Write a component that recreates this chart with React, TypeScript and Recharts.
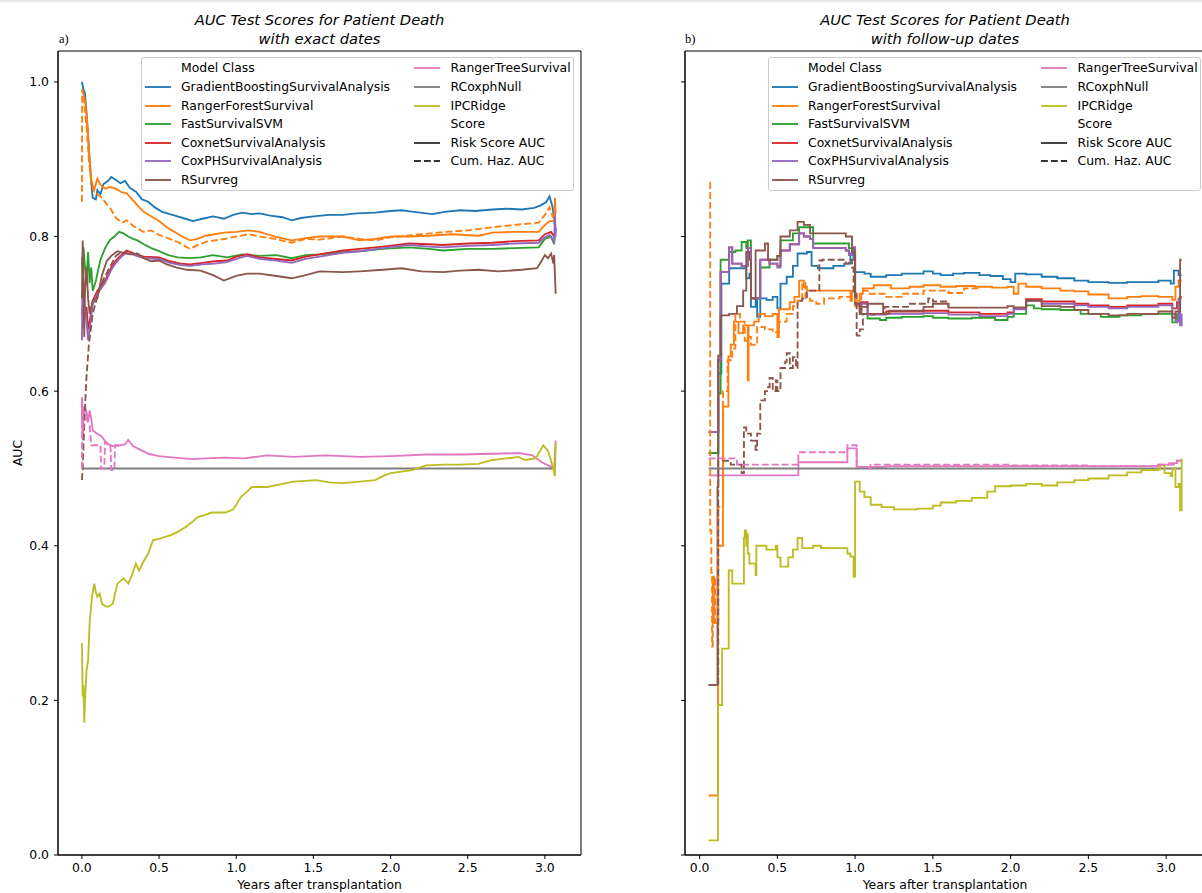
import React from 'react';
import { LineChart, Line, XAxis, YAxis, ReferenceArea } from 'recharts';

type Pt = [number, number];

// ---- panel a) exact dates: [years, AUC] ----
const exactGradientBoosting: Pt[] = [[0,1.0],[0.01,0.99],[0.02,0.985],[0.03,0.96],[0.04,0.93],[0.05,0.9],[0.06,0.87],[0.07,0.85],[0.09,0.848],[0.1,0.86],[0.12,0.855],[0.14,0.868],[0.17,0.872],[0.19,0.877],[0.22,0.873],[0.25,0.869],[0.28,0.872],[0.31,0.863],[0.35,0.858],[0.39,0.848],[0.43,0.845],[0.47,0.838],[0.52,0.832],[0.57,0.829],[0.62,0.826],[0.67,0.823],[0.72,0.82],[0.78,0.823],[0.85,0.826],[0.92,0.823],[0.98,0.828],[1.04,0.831],[1.1,0.829],[1.15,0.83],[1.22,0.827],[1.3,0.825],[1.36,0.821],[1.42,0.824],[1.5,0.826],[1.6,0.828],[1.69,0.828],[1.78,0.83],[1.9,0.831],[2.0,0.833],[2.07,0.834],[2.15,0.832],[2.27,0.829],[2.35,0.832],[2.45,0.834],[2.55,0.833],[2.66,0.835],[2.75,0.836],[2.85,0.835],[2.93,0.837],[2.97,0.84],[3.01,0.845],[3.03,0.852],[3.05,0.838],[3.06,0.82],[3.07,0.81]];
const exactRangerForest: Pt[] = [[0,0.99],[0.01,0.985],[0.02,0.975],[0.03,0.96],[0.04,0.93],[0.05,0.9],[0.06,0.875],[0.07,0.866],[0.08,0.86],[0.09,0.868],[0.1,0.875],[0.12,0.867],[0.15,0.862],[0.18,0.864],[0.22,0.862],[0.26,0.857],[0.29,0.856],[0.33,0.847],[0.37,0.838],[0.4,0.832],[0.45,0.826],[0.5,0.82],[0.55,0.812],[0.6,0.806],[0.65,0.8],[0.7,0.795],[0.75,0.797],[0.8,0.801],[0.86,0.803],[0.92,0.805],[1.0,0.806],[1.08,0.808],[1.15,0.806],[1.25,0.8],[1.36,0.795],[1.45,0.798],[1.54,0.8],[1.62,0.8],[1.69,0.8],[1.8,0.795],[1.9,0.797],[2.0,0.8],[2.12,0.8],[2.25,0.801],[2.4,0.803],[2.57,0.801],[2.66,0.805],[2.8,0.806],[2.96,0.806],[3.0,0.815],[3.03,0.82],[3.06,0.82],[3.065,0.85],[3.07,0.83]];
const exactRangerForestCh: Pt[] = [[0,0.845],[0.002,0.99],[0.015,0.975],[0.03,0.94],[0.045,0.9],[0.06,0.87],[0.075,0.86],[0.1,0.855],[0.13,0.85],[0.16,0.842],[0.18,0.838],[0.22,0.824],[0.26,0.818],[0.29,0.821],[0.33,0.814],[0.4,0.806],[0.45,0.808],[0.5,0.802],[0.57,0.797],[0.63,0.792],[0.7,0.784],[0.76,0.79],[0.82,0.794],[0.9,0.796],[1.0,0.8],[1.08,0.803],[1.15,0.8],[1.25,0.797],[1.36,0.792],[1.45,0.797],[1.54,0.796],[1.69,0.8],[1.8,0.797],[1.9,0.795],[2.0,0.799],[2.1,0.801],[2.2,0.803],[2.36,0.806],[2.5,0.808],[2.66,0.812],[2.8,0.815],[2.96,0.818],[3.0,0.828],[3.03,0.838],[3.05,0.826],[3.07,0.83]];
const exactFastSvm: Pt[] = [[0,0.773],[0.005,0.75],[0.01,0.786],[0.02,0.76],[0.03,0.743],[0.04,0.78],[0.05,0.74],[0.06,0.76],[0.07,0.73],[0.09,0.742],[0.1,0.752],[0.12,0.77],[0.15,0.785],[0.18,0.795],[0.21,0.8],[0.24,0.806],[0.27,0.804],[0.3,0.8],[0.33,0.797],[0.36,0.795],[0.4,0.79],[0.45,0.785],[0.5,0.781],[0.56,0.776],[0.62,0.773],[0.7,0.772],[0.77,0.773],[0.85,0.776],[0.94,0.773],[1.04,0.777],[1.15,0.775],[1.26,0.776],[1.36,0.772],[1.45,0.776],[1.54,0.777],[1.69,0.78],[1.8,0.781],[1.95,0.784],[2.12,0.786],[2.25,0.784],[2.34,0.782],[2.5,0.784],[2.66,0.784],[2.8,0.785],[2.96,0.786],[3.0,0.797],[3.04,0.8],[3.06,0.79],[3.07,0.81]];
const exactCoxnet: Pt[] = [[0,0.7],[0.01,0.72],[0.02,0.7],[0.03,0.709],[0.04,0.68],[0.05,0.69],[0.07,0.717],[0.1,0.73],[0.15,0.743],[0.19,0.76],[0.22,0.769],[0.26,0.777],[0.29,0.782],[0.34,0.778],[0.4,0.774],[0.5,0.773],[0.57,0.768],[0.64,0.765],[0.7,0.764],[0.78,0.766],[0.86,0.768],[0.94,0.769],[1.0,0.774],[1.07,0.777],[1.15,0.773],[1.26,0.771],[1.36,0.769],[1.45,0.774],[1.54,0.777],[1.69,0.782],[1.8,0.784],[1.95,0.787],[2.12,0.791],[2.25,0.79],[2.34,0.789],[2.5,0.791],[2.66,0.792],[2.8,0.794],[2.96,0.795],[3.0,0.803],[3.04,0.806],[3.06,0.8],[3.07,0.81]];
const exactCoxPH: Pt[] = [[0,0.666],[0.003,0.73],[0.006,0.68],[0.01,0.7],[0.02,0.709],[0.03,0.69],[0.04,0.666],[0.05,0.68],[0.07,0.712],[0.1,0.726],[0.15,0.74],[0.19,0.757],[0.22,0.766],[0.26,0.775],[0.29,0.779],[0.34,0.776],[0.4,0.772],[0.5,0.771],[0.57,0.766],[0.64,0.763],[0.7,0.762],[0.78,0.764],[0.86,0.765],[0.94,0.767],[1.0,0.771],[1.07,0.775],[1.15,0.771],[1.26,0.769],[1.36,0.766],[1.45,0.771],[1.54,0.774],[1.69,0.779],[1.8,0.781],[1.95,0.785],[2.12,0.789],[2.25,0.787],[2.34,0.786],[2.5,0.788],[2.66,0.789],[2.8,0.791],[2.96,0.792],[3.0,0.799],[3.03,0.802],[3.06,0.793],[3.065,0.83],[3.07,0.8]];
const exactSurvreg: Pt[] = [[0,0.72],[0.005,0.795],[0.01,0.75],[0.015,0.67],[0.02,0.73],[0.03,0.76],[0.04,0.72],[0.05,0.7],[0.07,0.717],[0.1,0.72],[0.13,0.75],[0.16,0.768],[0.19,0.775],[0.23,0.781],[0.27,0.779],[0.31,0.777],[0.36,0.778],[0.4,0.772],[0.45,0.768],[0.5,0.769],[0.55,0.764],[0.61,0.76],[0.68,0.757],[0.77,0.756],[0.85,0.75],[0.92,0.743],[1.0,0.749],[1.07,0.752],[1.15,0.752],[1.26,0.749],[1.36,0.746],[1.45,0.75],[1.54,0.755],[1.69,0.754],[1.8,0.755],[1.95,0.757],[2.07,0.759],[2.2,0.755],[2.34,0.754],[2.45,0.756],[2.57,0.757],[2.7,0.755],[2.85,0.757],[2.95,0.759],[2.98,0.769],[3.0,0.776],[3.02,0.772],[3.04,0.778],[3.055,0.765],[3.06,0.776],[3.07,0.726]];
const exactSurvregCh: Pt[] = [[0,0.485],[0.005,0.5],[0.01,0.53],[0.02,0.58],[0.03,0.62],[0.045,0.66],[0.07,0.7],[0.09,0.715],[0.11,0.73],[0.14,0.745],[0.18,0.76],[0.22,0.775],[0.25,0.779],[0.27,0.779]];
const exactRangerTree: Pt[] = [[0,0.592],[0.003,0.55],[0.006,0.537],[0.01,0.58],[0.015,0.57],[0.02,0.58],[0.03,0.573],[0.04,0.56],[0.05,0.575],[0.06,0.565],[0.07,0.549],[0.1,0.545],[0.13,0.541],[0.16,0.532],[0.2,0.529],[0.25,0.53],[0.28,0.531],[0.3,0.537],[0.33,0.529],[0.38,0.524],[0.43,0.519],[0.5,0.516],[0.6,0.514],[0.72,0.512],[0.8,0.513],[0.93,0.514],[1.05,0.513],[1.2,0.517],[1.37,0.515],[1.58,0.517],[1.8,0.515],[2.01,0.516],[2.23,0.518],[2.45,0.518],[2.66,0.519],[2.83,0.52],[2.92,0.517],[2.98,0.508],[3.04,0.502],[3.06,0.5],[3.07,0.536]];
const exactRangerTreeCh: Pt[] = [[0,0.5],[0.002,0.59],[0.006,0.545],[0.01,0.56],[0.03,0.565],[0.05,0.555],[0.06,0.53],[0.1,0.53],[0.12,0.53],[0.125,0.5],[0.145,0.5],[0.15,0.535],[0.185,0.53],[0.19,0.498],[0.21,0.498],[0.215,0.53],[0.25,0.53]];
const exactNull: Pt[] = [[0,0.5],[3.05,0.5]];
const exactIpcRidge: Pt[] = [[0,0.274],[0.005,0.205],[0.01,0.22],[0.015,0.171],[0.02,0.2],[0.03,0.239],[0.04,0.252],[0.05,0.3],[0.065,0.334],[0.08,0.351],[0.09,0.34],[0.1,0.334],[0.115,0.338],[0.13,0.325],[0.15,0.322],[0.17,0.321],[0.2,0.325],[0.23,0.351],[0.27,0.358],[0.3,0.351],[0.32,0.36],[0.35,0.377],[0.37,0.368],[0.4,0.38],[0.43,0.39],[0.46,0.407],[0.5,0.409],[0.55,0.412],[0.58,0.414],[0.62,0.418],[0.67,0.424],[0.71,0.43],[0.75,0.437],[0.8,0.44],[0.84,0.443],[0.9,0.443],[0.93,0.443],[0.98,0.447],[1.03,0.463],[1.07,0.47],[1.1,0.476],[1.2,0.476],[1.3,0.48],[1.37,0.483],[1.45,0.484],[1.52,0.485],[1.6,0.482],[1.69,0.481],[1.8,0.483],[1.9,0.485],[1.95,0.49],[2.0,0.494],[2.07,0.496],[2.14,0.498],[2.23,0.504],[2.35,0.505],[2.44,0.505],[2.57,0.506],[2.66,0.511],[2.75,0.513],[2.83,0.515],[2.87,0.511],[2.94,0.513],[2.99,0.53],[3.01,0.525],[3.02,0.523],[3.04,0.51],[3.06,0.494],[3.065,0.49],[3.07,0.533]];

// ---- panel b) follow-up dates (step curves) ----
const followGradientBoosting: Pt[] = [[0.058,0.52],[0.12,0.623],[0.14,0.739],[0.19,0.759],[0.3,0.746],[0.32,0.752],[0.33,0.709],[0.36,0.72],[0.37,0.696],[0.39,0.72],[0.43,0.718],[0.47,0.722],[0.5,0.707],[0.52,0.739],[0.56,0.748],[0.6,0.762],[0.63,0.778],[0.69,0.78],[0.72,0.762],[0.76,0.759],[0.86,0.762],[0.93,0.765],[0.97,0.778],[0.99,0.77],[1.0,0.754],[1.06,0.752],[1.1,0.748],[1.2,0.75],[1.3,0.752],[1.44,0.755],[1.5,0.752],[1.55,0.75],[1.63,0.752],[1.7,0.753],[1.8,0.75],[1.87,0.749],[1.95,0.745],[2.0,0.741],[2.03,0.752],[2.1,0.751],[2.2,0.748],[2.3,0.746],[2.41,0.743],[2.5,0.741],[2.63,0.74],[2.75,0.741],[2.84,0.741],[2.95,0.743],[3.01,0.743],[3.03,0.739],[3.05,0.756],[3.08,0.75],[3.1,0.75]];
const followRangerForest: Pt[] = [[0.058,0.077],[0.118,0.4],[0.15,0.58],[0.185,0.645],[0.2,0.66],[0.22,0.69],[0.25,0.675],[0.28,0.685],[0.31,0.614],[0.315,0.685],[0.35,0.69],[0.38,0.7],[0.42,0.697],[0.47,0.7],[0.5,0.67],[0.51,0.706],[0.58,0.715],[0.61,0.722],[0.64,0.743],[0.67,0.735],[0.69,0.73],[0.75,0.73],[0.85,0.73],[0.96,0.73],[0.97,0.717],[0.98,0.73],[1.0,0.71],[1.03,0.726],[1.05,0.733],[1.12,0.737],[1.23,0.733],[1.35,0.735],[1.44,0.737],[1.55,0.735],[1.65,0.736],[1.77,0.735],[1.88,0.734],[1.98,0.735],[2.02,0.726],[2.05,0.739],[2.1,0.735],[2.2,0.733],[2.32,0.73],[2.41,0.729],[2.5,0.725],[2.63,0.72],[2.75,0.722],[2.84,0.723],[2.95,0.722],[3.01,0.722],[3.04,0.718],[3.06,0.735],[3.08,0.743],[3.1,0.743]];
const followRangerForestCh: Pt[] = [[0.066,0.87],[0.068,0.42],[0.075,0.365],[0.08,0.27],[0.085,0.36],[0.09,0.3],[0.095,0.36],[0.1,0.3],[0.12,0.45],[0.15,0.6],[0.18,0.64],[0.21,0.655],[0.23,0.7],[0.26,0.69],[0.29,0.665],[0.31,0.67],[0.33,0.66],[0.37,0.683],[0.42,0.68],[0.47,0.676],[0.51,0.69],[0.56,0.7],[0.6,0.71],[0.63,0.717],[0.66,0.74],[0.68,0.72],[0.71,0.717],[0.75,0.713],[0.8,0.72],[0.9,0.722],[0.95,0.722],[1.0,0.717],[1.04,0.73],[1.08,0.726],[1.19,0.722],[1.3,0.726],[1.44,0.73],[1.6,0.727],[1.7,0.733],[1.8,0.734]];
const followFastSvm: Pt[] = [[0.058,0.52],[0.12,0.597],[0.135,0.77],[0.19,0.78],[0.23,0.782],[0.27,0.793],[0.3,0.785],[0.31,0.795],[0.33,0.72],[0.38,0.72],[0.39,0.76],[0.45,0.77],[0.5,0.775],[0.52,0.795],[0.6,0.804],[0.64,0.812],[0.73,0.791],[0.94,0.791],[0.96,0.785],[0.99,0.78],[1.0,0.713],[1.03,0.7],[1.08,0.694],[1.16,0.692],[1.2,0.695],[1.3,0.696],[1.44,0.697],[1.5,0.695],[1.6,0.694],[1.75,0.695],[1.9,0.692],[1.98,0.696],[2.02,0.7],[2.1,0.711],[2.15,0.707],[2.2,0.706],[2.32,0.705],[2.45,0.7],[2.58,0.696],[2.7,0.698],[2.84,0.7],[2.95,0.7],[3.01,0.7],[3.04,0.689],[3.07,0.7],[3.09,0.72],[3.1,0.72]];
const followCoxnet: Pt[] = [[0.058,0.547],[0.12,0.64],[0.135,0.754],[0.19,0.786],[0.21,0.765],[0.27,0.762],[0.31,0.785],[0.33,0.72],[0.39,0.77],[0.45,0.765],[0.5,0.762],[0.52,0.782],[0.58,0.79],[0.64,0.804],[0.67,0.8],[0.71,0.797],[0.73,0.785],[0.94,0.782],[0.96,0.776],[0.98,0.786],[1.0,0.713],[1.03,0.705],[1.04,0.715],[1.08,0.7],[1.2,0.703],[1.44,0.704],[1.6,0.702],[1.8,0.7],[1.98,0.702],[2.02,0.708],[2.1,0.719],[2.2,0.716],[2.32,0.716],[2.41,0.713],[2.5,0.711],[2.63,0.709],[2.75,0.711],[2.84,0.711],[2.95,0.713],[3.01,0.713],[3.04,0.707],[3.07,0.715],[3.09,0.722],[3.1,0.722]];
const followCoxPH: Pt[] = [[0.058,0.547],[0.12,0.64],[0.135,0.754],[0.19,0.786],[0.21,0.765],[0.27,0.762],[0.31,0.785],[0.33,0.72],[0.39,0.77],[0.45,0.765],[0.5,0.76],[0.52,0.782],[0.58,0.79],[0.64,0.804],[0.67,0.8],[0.71,0.797],[0.73,0.785],[0.94,0.782],[0.96,0.776],[0.98,0.786],[1.0,0.713],[1.03,0.705],[1.04,0.713],[1.08,0.699],[1.2,0.7],[1.44,0.701],[1.6,0.699],[1.8,0.697],[1.98,0.7],[2.02,0.706],[2.1,0.717],[2.2,0.713],[2.32,0.713],[2.41,0.711],[2.5,0.709],[2.63,0.707],[2.75,0.709],[2.84,0.709],[2.95,0.711],[3.01,0.711],[3.04,0.7],[3.06,0.69],[3.08,0.72],[3.09,0.685],[3.1,0.7]];
const followSurvreg: Pt[] = [[0.058,0.22],[0.115,0.476],[0.12,0.646],[0.135,0.698],[0.19,0.7],[0.24,0.71],[0.28,0.73],[0.3,0.78],[0.32,0.77],[0.33,0.72],[0.36,0.782],[0.42,0.791],[0.44,0.77],[0.5,0.775],[0.52,0.8],[0.58,0.808],[0.63,0.819],[0.67,0.815],[0.71,0.804],[0.8,0.804],[0.9,0.804],[0.94,0.8],[0.97,0.8],[0.98,0.78],[1.0,0.713],[1.03,0.7],[1.04,0.709],[1.08,0.713],[1.18,0.7],[1.22,0.704],[1.44,0.709],[1.5,0.713],[1.6,0.708],[1.87,0.708],[1.98,0.71],[2.02,0.708],[2.1,0.717],[2.2,0.71],[2.32,0.709],[2.41,0.705],[2.5,0.7],[2.63,0.698],[2.75,0.7],[2.84,0.7],[2.95,0.703],[3.01,0.703],[3.04,0.695],[3.06,0.703],[3.09,0.77],[3.1,0.77]];
const followSurvregCh: Pt[] = [[0.058,0.22],[0.12,0.51],[0.2,0.505],[0.27,0.494],[0.285,0.553],[0.3,0.545],[0.33,0.536],[0.36,0.524],[0.37,0.545],[0.39,0.588],[0.42,0.6],[0.44,0.605],[0.45,0.617],[0.47,0.6],[0.49,0.614],[0.5,0.6],[0.52,0.63],[0.55,0.638],[0.56,0.649],[0.58,0.63],[0.6,0.644],[0.62,0.63],[0.63,0.717],[0.66,0.72],[0.69,0.73],[0.76,0.73],[0.77,0.769],[0.79,0.77],[0.94,0.765],[0.96,0.77],[0.98,0.76],[0.99,0.726],[1.01,0.672],[1.03,0.68],[1.05,0.7],[1.08,0.699],[1.12,0.7],[1.19,0.709],[1.34,0.713],[1.47,0.72],[1.5,0.716],[1.6,0.709]];
const followRangerTree: Pt[] = [[0.058,0.491],[0.635,0.508],[0.95,0.526],[1.01,0.502],[1.2,0.503],[1.6,0.503],[2.0,0.503],[2.5,0.503],[2.9,0.503],[2.95,0.505],[3.02,0.507],[3.07,0.51],[3.1,0.511]];
const followRangerTreeCh: Pt[] = [[0.058,0.513],[0.24,0.505],[0.635,0.521],[0.95,0.53],[1.01,0.502],[1.08,0.5],[1.1,0.505],[1.5,0.505],[2.0,0.504],[2.5,0.503],[2.95,0.505],[3.07,0.51],[3.1,0.511]];
const followNull: Pt[] = [[0.058,0.5],[3.1,0.5]];
const followIpcRidge: Pt[] = [[0.058,0.019],[0.118,0.194],[0.145,0.267],[0.187,0.368],[0.21,0.351],[0.285,0.41],[0.29,0.42],[0.3,0.4],[0.305,0.415],[0.31,0.39],[0.32,0.377],[0.36,0.362],[0.365,0.4],[0.43,0.395],[0.49,0.4],[0.5,0.385],[0.52,0.373],[0.57,0.385],[0.6,0.395],[0.63,0.41],[0.66,0.397],[0.73,0.4],[0.78,0.397],[0.93,0.397],[0.95,0.39],[0.97,0.386],[0.99,0.36],[1.0,0.483],[1.03,0.47],[1.06,0.463],[1.1,0.453],[1.17,0.45],[1.25,0.447],[1.4,0.448],[1.5,0.452],[1.55,0.456],[1.65,0.458],[1.75,0.462],[1.85,0.47],[1.9,0.477],[2.0,0.478],[2.1,0.48],[2.2,0.478],[2.3,0.482],[2.41,0.485],[2.5,0.487],[2.63,0.491],[2.75,0.495],[2.84,0.498],[2.95,0.499],[2.96,0.504],[2.99,0.494],[3.03,0.49],[3.04,0.5],[3.06,0.476],[3.08,0.48],[3.09,0.446],[3.1,0.513]];

const xTicks = [0, 0.5, 1, 1.5, 2, 2.5, 3];
const yTicks = [0, 0.2, 0.4, 0.6, 0.8, 1.0];

const C = {
  blue: '#1f77b4', orange: '#ff7f0e', green: '#2ca02c', red: '#d62728', purple: '#9467bd',
  brown: '#8c564b', pink: '#e377c2', gray: '#7f7f7f', olive: '#bcbd22',
};

interface Series { id: string; color: string; dashed?: boolean; pts: Pt[] }

const exactSeries: Series[] = [
  { id: 'gb', color: C.blue, pts: exactGradientBoosting },
  { id: 'rf', color: C.orange, pts: exactRangerForest },
  { id: 'svm', color: C.green, pts: exactFastSvm },
  { id: 'cn', color: C.red, pts: exactCoxnet },
  { id: 'cph', color: C.purple, pts: exactCoxPH },
  { id: 'sr', color: C.brown, pts: exactSurvreg },
  { id: 'rt', color: C.pink, pts: exactRangerTree },
  { id: 'null', color: C.gray, pts: exactNull },
  { id: 'ipc', color: C.olive, pts: exactIpcRidge },
  { id: 'rf-ch', color: C.orange, dashed: true, pts: exactRangerForestCh },
  { id: 'sr-ch', color: C.brown, dashed: true, pts: exactSurvregCh },
  { id: 'rt-ch', color: C.pink, dashed: true, pts: exactRangerTreeCh },
];

const followSeries: Series[] = [
  { id: 'gb', color: C.blue, pts: followGradientBoosting },
  { id: 'rf', color: C.orange, pts: followRangerForest },
  { id: 'svm', color: C.green, pts: followFastSvm },
  { id: 'cn', color: C.red, pts: followCoxnet },
  { id: 'cph', color: C.purple, pts: followCoxPH },
  { id: 'sr', color: C.brown, pts: followSurvreg },
  { id: 'rt', color: C.pink, pts: followRangerTree },
  { id: 'null', color: C.gray, pts: followNull },
  { id: 'ipc', color: C.olive, pts: followIpcRidge },
  { id: 'rf-ch', color: C.orange, dashed: true, pts: followRangerForestCh },
  { id: 'sr-ch', color: C.brown, dashed: true, pts: followSurvregCh },
  { id: 'rt-ch', color: C.pink, dashed: true, pts: followRangerTreeCh },
];

const FONT = '"DejaVu Sans", sans-serif';
const tickStyle = { fill: '#000', fontSize: 12.4, fontFamily: FONT };

const toRows = (pts: Pt[]) => pts.map(([x, y]) => ({ x, y }));

interface PanelProps {
  series: Series[];
  curve: 'linear' | 'stepAfter';
  xDomain: [number, number];
  width: number;
  marginLeft: number;
  marginRight: number;
  showYLabels: boolean;
}

const Panel: React.FC<PanelProps> = ({ series, curve, xDomain, width, marginLeft, marginRight, showYLabels }) => (
  <LineChart width={width} height={893} margin={{ top: 51, right: marginRight, bottom: 8, left: marginLeft }}>
    <XAxis
      type="number"
      dataKey="x"
      domain={xDomain}
      ticks={xTicks}
      allowDataOverflow
      tickFormatter={(v: number) => v.toFixed(1)}
      height={30}
      tickSize={4}
      tickMargin={4}
      stroke="#000"
      tick={tickStyle}
    />
    <YAxis
      type="number"
      domain={[0, 1.04]}
      ticks={yTicks}
      allowDataOverflow
      tickFormatter={(v: number) => (showYLabels ? v.toFixed(1) : '')}
      width={40}
      tickSize={4}
      tickMargin={5}
      stroke="#000"
      tick={tickStyle}
    />
    {series.map((s) => (
      <Line
        key={s.id}
        data={toRows(s.pts)}
        dataKey="y"
        type={curve}
        stroke={s.color}
        strokeWidth={1.85}
        strokeDasharray={s.dashed ? '6.9 3' : undefined}
        dot={false}
        activeDot={false}
        isAnimationActive={false}
      />
    ))}
    <ReferenceArea
      x1={xDomain[0]}
      x2={xDomain[1]}
      y1={0}
      y2={1.04}
      fill="none"
      fillOpacity={0}
      stroke="#000"
      strokeWidth={1}
      ifOverflow="visible"
    />
  </LineChart>
);

const modelEntries = [
  { label: 'GradientBoostingSurvivalAnalysis', color: C.blue },
  { label: 'RangerForestSurvival', color: C.orange },
  { label: 'FastSurvivalSVM', color: C.green },
  { label: 'CoxnetSurvivalAnalysis', color: C.red },
  { label: 'CoxPHSurvivalAnalysis', color: C.purple },
  { label: 'RSurvreg', color: C.brown },
  { label: 'RangerTreeSurvival', color: C.pink },
  { label: 'RCoxphNull', color: C.gray },
  { label: 'IPCRidge', color: C.olive },
];

interface Entry { label: string; color?: string; dashed?: boolean }

const col1: Entry[] = [{ label: 'Model Class' }, ...modelEntries.slice(0, 6)];
const col2: Entry[] = [
  ...modelEntries.slice(6),
  { label: 'Score' },
  { label: 'Risk Score AUC', color: '#333' },
  { label: 'Cum. Haz. AUC', color: '#333', dashed: true },
];

const LegendBox: React.FC<{ left: number }> = ({ left }) => {
  const row = (e: Entry, i: number, hx: number, tx: number) => {
    const cy = 10.3 + i * 18.6;
    return (
      <React.Fragment key={e.label}>
        {e.color && (
          <svg style={{ position: 'absolute', left: hx, top: cy - 3, overflow: 'visible' }} width={26} height={6}>
            <line x1={0} y1={3} x2={26} y2={3} stroke={e.color} strokeWidth={1.85} strokeDasharray={e.dashed ? '6.9 3' : undefined} />
          </svg>
        )}
        <div style={{ position: 'absolute', left: tx, top: cy - 8, lineHeight: '16px', whiteSpace: 'nowrap' }}>{e.label}</div>
      </React.Fragment>
    );
  };
  return (
    <div
      style={{
        position: 'absolute', left, top: 57, width: 433, height: 134, boxSizing: 'border-box',
        border: '1px solid #cccccc', borderRadius: 3, background: 'rgba(255,255,255,0.8)',
        fontFamily: FONT, fontSize: 12.4, color: '#000',
      }}
    >
      {col1.map((e, i) => row(e, i, 2.5, 39))}
      {col2.map((e, i) => row(e, i, 272, 308.5))}
    </div>
  );
};

const Title: React.FC<{ center: number; sub: string }> = ({ center, sub }) => (
  <div
    style={{
      position: 'absolute', left: center - 200, top: 9.5, width: 400, textAlign: 'center',
      fontFamily: FONT, fontStyle: 'italic', fontSize: 14.7, lineHeight: '19px', color: '#000',
    }}
  >
    AUC Test Scores for Patient Death
    <br />
    {sub}
  </div>
);

const XLabel: React.FC<{ center: number }> = ({ center }) => (
  <div
    style={{
      position: 'absolute', left: center - 150, top: 877, width: 300, textAlign: 'center',
      fontFamily: FONT, fontSize: 12.4, lineHeight: '16px', color: '#000',
    }}
  >
    Years after transplantation
  </div>
);

const PanelTag: React.FC<{ left: number; text: string }> = ({ left, text }) => (
  <div
    style={{
      position: 'absolute', left, top: 31, fontFamily: '"Liberation Serif", serif', fontSize: 12.5,
      lineHeight: '16px', color: '#000',
    }}
  >
    {text}
  </div>
);

export default function App() {
  return (
    <div style={{ position: 'absolute', left: 0, top: 0, width: 1202, height: 893, overflow: 'hidden', background: '#fff' }}>
      <div style={{ position: 'absolute', left: 0, top: 0, width: 1202, height: 2, background: '#e8e8e8' }} />
      <div style={{ position: 'absolute', left: 0, top: 0 }}>
        <Panel series={exactSeries} curve="linear" xDomain={[-0.155, 3.234]} width={600} marginLeft={18} marginRight={19} showYLabels />
      </div>
      <div style={{ position: 'absolute', left: 600, top: 0 }}>
        <Panel series={followSeries} curve="stepAfter" xDomain={[-0.094, 3.25]} width={615} marginLeft={45} marginRight={10} showYLabels={false} />
      </div>
      <Title center={319.5} sub="with exact dates" />
      <Title center={945} sub="with follow-up dates" />
      <PanelTag left={59} text="a)" />
      <PanelTag left={685} text="b)" />
      <div
        style={{
          position: 'absolute', left: 18 - 30, top: 453 - 8, width: 60, textAlign: 'center',
          transform: 'rotate(-90deg)', fontFamily: FONT, fontSize: 12.4, lineHeight: '16px', color: '#000',
        }}
      >
        AUC
      </div>
      <XLabel center={319.5} />
      <XLabel center={945} />
      <LegendBox left={141} />
      <LegendBox left={768} />
    </div>
  );
}
